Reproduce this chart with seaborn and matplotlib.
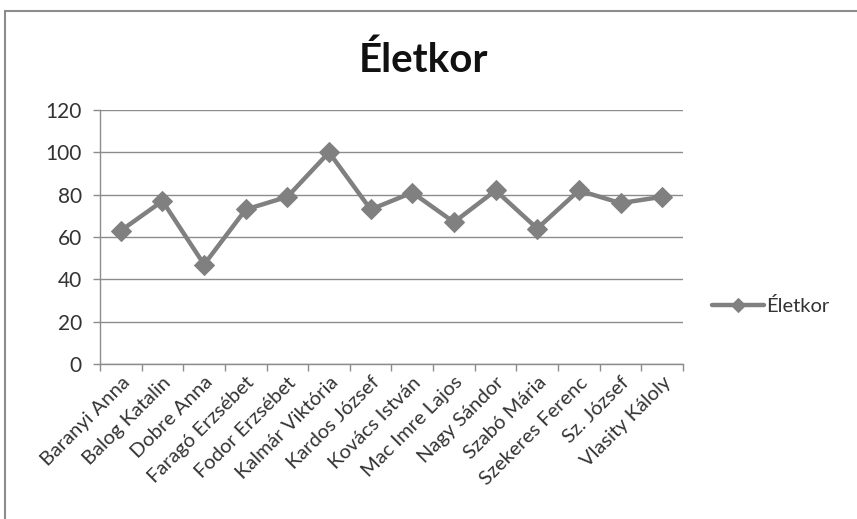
import matplotlib
matplotlib.use("Agg")
import matplotlib.pyplot as plt
from matplotlib.patches import Rectangle
from matplotlib.ticker import FixedLocator
import seaborn as sns
import pandas as pd

names = ["Baranyi Anna", "Balog Katalin", "Dobre Anna", "Faragó Erzsébet",
         "Fodor Erzsébet", "Kalmár Viktória", "Kardos József", "Kovács István",
         "Mac Imre Lajos", "Nagy Sándor", "Szabó Mária", "Szekeres Ferenc",
         "Sz. József", "Vlasity Káloly"]
ages = [63, 77, 47, 73, 79, 100, 73, 81, 67, 82, 64, 82, 76, 79]
y_ticks = [0, 20, 40, 60, 80, 100, 120]
series_name = "Életkor"

sns.set_theme(style="white")
plt.rcParams["font.family"] = ["Lato", "DejaVu Sans"]

df = pd.DataFrame({"név": names, series_name: ages})

fig = plt.figure(figsize=(8.57, 5.19), dpi=100)
ax = fig.add_axes([100 / 857, 1 - 364 / 519, 583 / 857, 254 / 519])

line_col = "#808080"
sns.lineplot(data=df, x="név", y=series_name, ax=ax, color=line_col,
             linewidth=3.2, marker="D", markersize=10, markeredgecolor=line_col,
             label=series_name, sort=False)

n = len(names)
ax.set_xlim(-0.5, n - 0.5)
ax.set_ylim(0, 120)
ax.set_yticks(y_ticks)
ax.set_xlabel("")
ax.set_ylabel("")
ax.grid(axis="y", color="#8c8c8c", linewidth=1.0)
ax.grid(axis="x", visible=False)

for s in ["top", "right"]:
    ax.spines[s].set_visible(False)
for s in ["left", "bottom"]:
    ax.spines[s].set_color("#8c8c8c")
    ax.spines[s].set_linewidth(1.0)

# category labels centred between boundary tick marks
ax.set_xticks(range(n))
ax.set_xticklabels(names, rotation=45, ha="right", rotation_mode="anchor",
                   fontsize=14.5, color="#333333")
ax.tick_params(axis="x", which="major", length=0, pad=7)
ax.xaxis.set_minor_locator(FixedLocator([i - 0.5 for i in range(n + 1)]))
ax.tick_params(axis="x", which="minor", length=5, width=1, color="#8c8c8c",
               direction="out", bottom=True)
ax.tick_params(axis="y", length=5, width=1, color="#8c8c8c", direction="out",
               left=True, labelsize=15, labelcolor="#333333", pad=8)

leg = fig.legend(*ax.get_legend_handles_labels(), loc="center left",
                 bbox_to_anchor=(712 / 857, 1 - 306 / 519), frameon=False,
                 fontsize=14.5, handlelength=2.6, handletextpad=0.1,
                 markerscale=0.7, borderaxespad=0, borderpad=0)
ax.get_legend().remove()
for t in leg.get_texts():
    t.set_color("#333333")

fig.text(424 / 857, 1 - 60 / 519, series_name, ha="center", va="center",
         fontsize=29, fontweight="bold", color="#111111")

# chart area frame
fig.patches.append(Rectangle((5 / 857, -0.1), 1.2, 1 - 11 / 519 + 0.1,
                             transform=fig.transFigure, fill=False,
                             edgecolor="#8c8c8c", linewidth=1.5))

fig.savefig("out.png", dpi=100)
